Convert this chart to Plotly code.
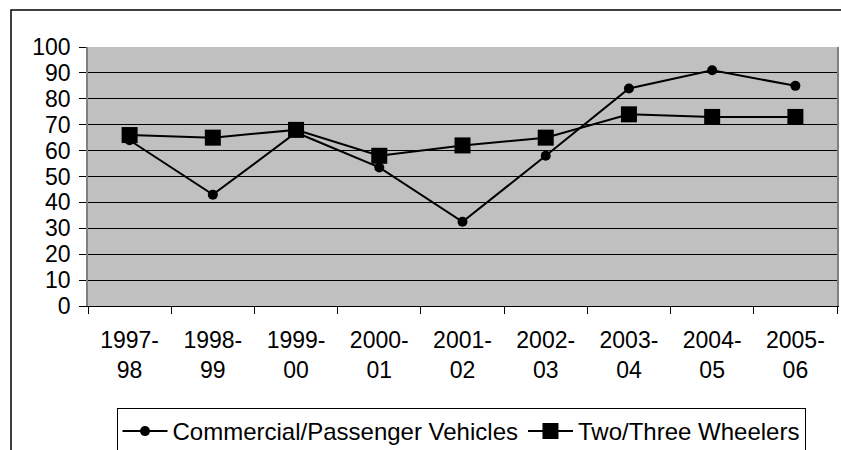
import plotly.graph_objects as go

categories = ["1997-<br>98", "1998-<br>99", "1999-<br>00", "2000-<br>01", "2001-<br>02",
              "2002-<br>03", "2003-<br>04", "2004-<br>05", "2005-<br>06"]
commercial = [64, 43, 67, 53.5, 32.5, 58, 84, 91, 85]
two_three = [66, 65, 68, 58, 62, 65, 74, 73, 73]
y_ticks = [0, 10, 20, 30, 40, 50, 60, 70, 80, 90, 100]

W, H = 841, 450
L, R, T, B = 88, 837, 47, 306
pw, ph = R - L, B - T

fig = go.Figure()
fig.add_trace(go.Scatter(
    x=categories, y=commercial, mode="lines+markers",
    name="Commercial/Passenger Vehicles",
    line=dict(color="black", width=2),
    marker=dict(symbol="circle", size=10, color="black", line=dict(width=0)),
))
fig.add_trace(go.Scatter(
    x=categories, y=two_three, mode="lines+markers",
    name="Two/Three Wheelers",
    line=dict(color="black", width=2),
    marker=dict(symbol="square", size=16, color="black", line=dict(width=0)),
))

tick_font = dict(family="Liberation Sans, Arial, sans-serif", size=23, color="black")
legend_font = dict(family="Liberation Sans, Arial, sans-serif", size=24, color="black")

# outer chart border (left and top visible)
fig.add_shape(type="rect", xref="paper", yref="paper",
              x0=(11 - L) / pw, x1=(W + 20 - L) / pw,
              y0=(B - (H + 20)) / ph, y1=(B - 10) / ph,
              line=dict(color="black", width=1.5), fillcolor="rgba(0,0,0,0)", layer="below")

fig.update_layout(
    width=W, height=H,
    margin=dict(l=L, r=W - R, t=T, b=H - B, autoexpand=False),
    paper_bgcolor="white", plot_bgcolor="#C0C0C0",
    font=tick_font,
    showlegend=True,
    legend=dict(orientation="h", x=(461 - L) / pw, xanchor="center", y=(B - 408) / ph, yanchor="top",
                bordercolor="black", borderwidth=1, bgcolor="white",
                font=legend_font, itemwidth=45, tracegroupgap=0),
    xaxis=dict(
        type="category", range=[-0.5, 8.5], tickson="boundaries",
        ticks="outside", ticklen=7, tickcolor="black", tickwidth=1,
        showline=True, linecolor="black", linewidth=1, mirror=False,
        showgrid=False, tickfont=tick_font, tickangle=0, fixedrange=True,
        automargin=False, ticklabelstandoff=13,
    ),
    yaxis=dict(
        range=[0, 100], tickvals=y_ticks, ticks="outside", ticklen=7,
        tickcolor="black", tickwidth=1,
        showline=True, linecolor="#808080", linewidth=1.5, mirror=True,
        showgrid=True, gridcolor="black", gridwidth=1, zeroline=False,
        tickfont=tick_font, fixedrange=True, automargin=False,
        ticklabelstandoff=4,
    ),
)

fig.write_html(
    "out.html",
    config={"displayModeBar": False},
    post_script="document.body.style.margin='0';document.body.style.overflow='hidden';",
)
